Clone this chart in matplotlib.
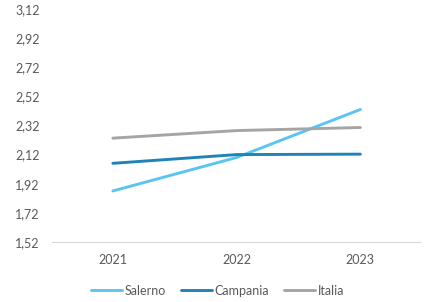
import matplotlib
matplotlib.use("Agg")
import matplotlib.pyplot as plt

years = ["2021", "2022", "2023"]
salerno = [1.87, 2.10, 2.43]
campania = [2.06, 2.12, 2.123]
italia = [2.233, 2.285, 2.306]
yticks = [1.52, 1.72, 1.92, 2.12, 2.32, 2.52, 2.72, 2.92, 3.12]

plt.rcParams['font.family'] = ['Lato', 'DejaVu Sans']
txt = '#595959'

fig = plt.figure(figsize=(4.35, 3.02), dpi=100)
ax = fig.add_axes([0.12, 0.199, 0.845, 0.771])
x = range(len(years))
ax.plot(x, salerno, color='#5BC5F2', lw=2.1, label='Salerno', solid_capstyle='round')
ax.plot(x, campania, color='#1F83B8', lw=2.1, label='Campania', solid_capstyle='round')
ax.plot(x, italia, color='#A5A5A5', lw=2.1, label='Italia', solid_capstyle='round')

ax.set_xlim(-0.49, 2.48)
ax.set_ylim(1.52, 3.12)
ax.set_xticks(list(x))
ax.set_xticklabels(years)
ax.set_yticks(yticks)
ax.set_yticklabels([f"{v:.2f}".replace('.', ',') for v in yticks])
for s in ['top', 'right', 'left']:
    ax.spines[s].set_visible(False)
ax.spines['bottom'].set_color('#D9D9D9')
ax.tick_params(axis='both', length=0, labelsize=9, colors=txt)
ax.tick_params(axis='x', pad=9)
ax.tick_params(axis='y', pad=9)

fig.legend(loc='lower center', bbox_to_anchor=(0.5, -0.02), ncol=3, frameon=False,
           fontsize=9, labelcolor=txt, handlelength=2.5, handletextpad=0.2, columnspacing=1.2)
fig.savefig('out.png', dpi=100)
